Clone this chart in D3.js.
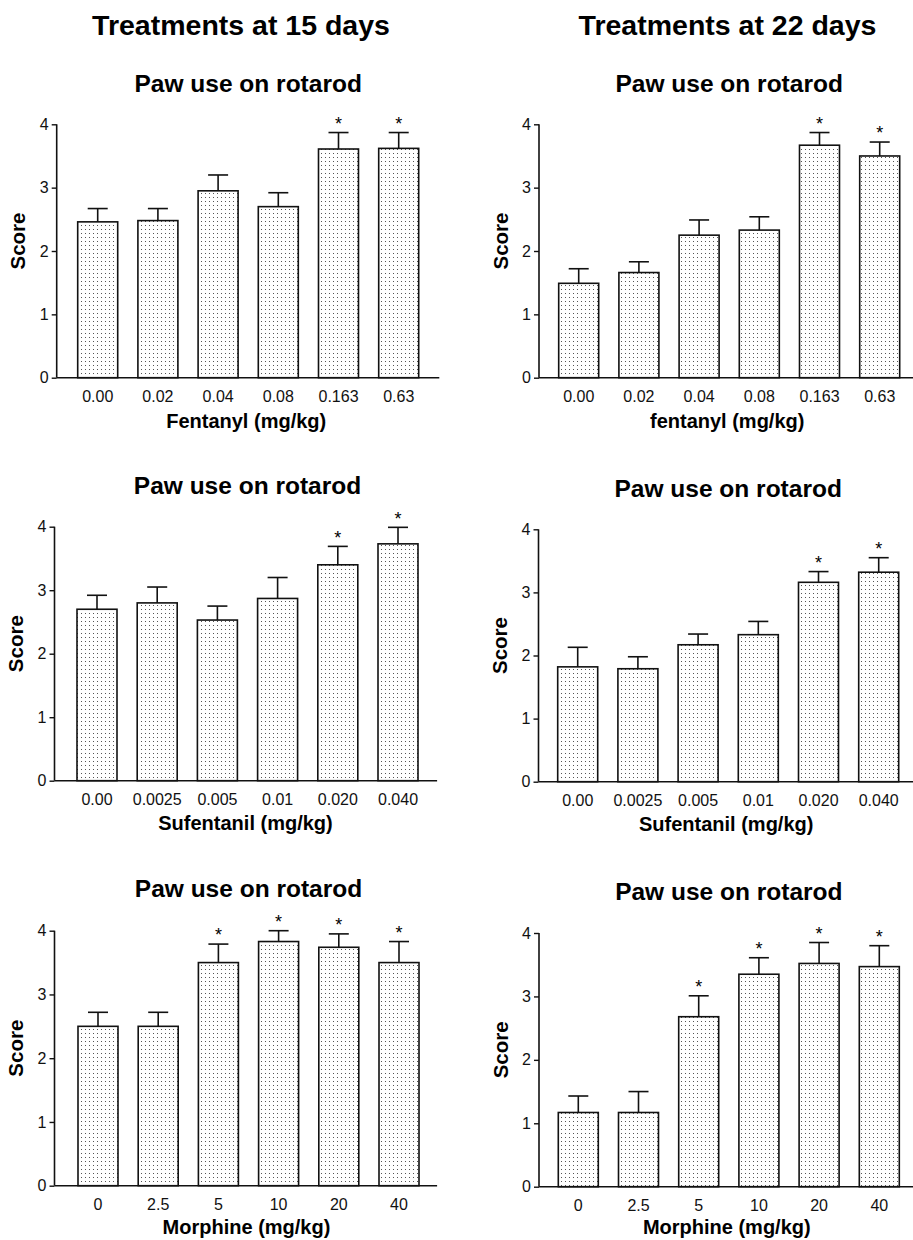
<!DOCTYPE html>
<html>
<head>
<meta charset="utf-8">
<script src="https://cdn.jsdelivr.net/npm/d3@7"></script>
<style>
  html, body { margin: 0; padding: 0; background: #fff; }
  svg { display: block; font-family: "Liberation Sans", Arial, Helvetica, sans-serif; }
</style>
</head>
<body>
<svg id="fig" width="913" height="1240"></svg>
<script>
// ---- data ----
const columnTitles = ["Treatments at 15 days", "Treatments at 22 days"];
const panelTitle = "Paw use on rotarod";
const yAxisLabel = "Score";
const yTicks = [0, 1, 2, 3, 4];

const fentanylDoses = ["0.00", "0.02", "0.04", "0.08", "0.163", "0.63"];
const sufentanilDoses = ["0.00", "0.0025", "0.005", "0.01", "0.020", "0.040"];
const morphineDoses = ["0", "2.5", "5", "10", "20", "40"];

const xTitles = ["Fentanyl (mg/kg)", "fentanyl (mg/kg)", "Sufentanil (mg/kg)",
                 "Sufentanil (mg/kg)", "Morphine (mg/kg)", "Morphine (mg/kg)"];

const fentanyl15Mean = [2.46, 2.48, 2.95, 2.70, 3.61, 3.62];
const fentanyl15Sem  = [0.21, 0.19, 0.25, 0.22, 0.26, 0.25];
const fentanyl15Sig  = [0, 0, 0, 0, 1, 1];

const fentanyl22Mean = [1.49, 1.66, 2.25, 2.33, 3.67, 3.50];
const fentanyl22Sem  = [0.23, 0.17, 0.24, 0.21, 0.20, 0.22];
const fentanyl22Sig  = [0, 0, 0, 0, 1, 1];

const sufentanil15Mean = [2.70, 2.80, 2.53, 2.87, 3.40, 3.73];
const sufentanil15Sem  = [0.22, 0.25, 0.22, 0.33, 0.29, 0.26];
const sufentanil15Sig  = [0, 0, 0, 0, 1, 1];

const sufentanil22Mean = [1.82, 1.79, 2.17, 2.33, 3.16, 3.32];
const sufentanil22Sem  = [0.31, 0.19, 0.17, 0.21, 0.17, 0.23];
const sufentanil22Sig  = [0, 0, 0, 0, 1, 1];

const morphine15Mean = [2.50, 2.50, 3.50, 3.83, 3.74, 3.50];
const morphine15Sem  = [0.22, 0.22, 0.29, 0.17, 0.21, 0.33];
const morphine15Sig  = [0, 0, 1, 1, 1, 1];

const morphine22Mean = [1.17, 1.17, 2.68, 3.35, 3.52, 3.47];
const morphine22Sem  = [0.26, 0.33, 0.33, 0.26, 0.33, 0.33];
const morphine22Sig  = [0, 0, 1, 1, 1, 1];

// ---- panel assembly ----
const panels = [
  { doses: fentanylDoses,   mean: fentanyl15Mean,   sem: fentanyl15Sem,   sig: fentanyl15Sig,   xTitle: xTitles[0] },
  { doses: fentanylDoses,   mean: fentanyl22Mean,   sem: fentanyl22Sem,   sig: fentanyl22Sig,   xTitle: xTitles[1] },
  { doses: sufentanilDoses, mean: sufentanil15Mean, sem: sufentanil15Sem, sig: sufentanil15Sig, xTitle: xTitles[2] },
  { doses: sufentanilDoses, mean: sufentanil22Mean, sem: sufentanil22Sem, sig: sufentanil22Sig, xTitle: xTitles[3] },
  { doses: morphineDoses,   mean: morphine15Mean,   sem: morphine15Sem,   sig: morphine15Sig,   xTitle: xTitles[4] },
  { doses: morphineDoses,   mean: morphine22Mean,   sem: morphine22Sem,   sig: morphine22Sig,   xTitle: xTitles[5] }
];

// frame geometry for each panel: y-axis position, plot top/bottom, first bar edge
const frames = [
  { axisX: 56.7,  top: 124.3, bottom: 377.7,  barStart: 77.7,  sub: 91.7,  xTitleOff: 50 },
  { axisX: 539.0, top: 124.3, bottom: 377.7,  barStart: 558.7, sub: 91.7,  xTitleOff: 50 },
  { axisX: 54.5,  top: 526.7, bottom: 780.7,  barStart: 77.0,  sub: 494.3, xTitleOff: 49.5 },
  { axisX: 538.5, top: 529.3, bottom: 781.7,  barStart: 557.7, sub: 497.3, xTitleOff: 49.5 },
  { axisX: 54.5,  top: 930.7, bottom: 1185.7, barStart: 78.0,  sub: 897.3, xTitleOff: 48.5 },
  { axisX: 539.0, top: 933.0, bottom: 1186.7, barStart: 558.3, sub: 900.0, xTitleOff: 47.5 }
];

const svg = d3.select("#fig");

// dotted bar fill
const defs = svg.append("defs");
const pat = defs.append("pattern")
  .attr("id", "dots")
  .attr("patternUnits", "userSpaceOnUse")
  .attr("width", 4).attr("height", 4);
pat.append("rect").attr("width", 4).attr("height", 4).attr("fill", "#fff");
pat.append("rect").attr("x", 1).attr("y", 1).attr("width", 1).attr("height", 1).attr("fill", "#555");

// column headings
const headingX = [241, 727.5];
columnTitles.forEach((t, i) => {
  svg.append("text")
    .attr("x", headingX[i]).attr("y", 35)
    .attr("text-anchor", "middle")
    .attr("font-size", 28.5).attr("font-weight", "bold")
    .text(t);
});

const step = 60.2, barW = 40, gap = step - barW;
const axisLen = 382.6;

panels.forEach((p, i) => {
  const f = frames[i];
  const g = svg.append("g");

  const x = d3.scaleBand()
    .domain(p.doses)
    .range([f.barStart - gap / 2, f.barStart - gap / 2 + step * p.doses.length])
    .paddingInner(gap / step)
    .paddingOuter(gap / step / 2);

  const y = d3.scaleLinear().domain([0, 4]).range([f.bottom, f.top]);

  const rows = p.doses.map((d, k) => ({ dose: d, mean: p.mean[k], sem: p.sem[k], sig: p.sig[k] }));

  // bars
  g.selectAll("rect.bar").data(rows).enter().append("rect")
    .attr("class", "bar")
    .attr("x", d => x(d.dose))
    .attr("y", d => y(d.mean))
    .attr("width", x.bandwidth())
    .attr("height", d => y(0) - y(d.mean))
    .attr("fill", "url(#dots)")
    .attr("stroke", "#111")
    .attr("stroke-width", 1.6);

  // upper error bars
  const cx = d => x(d.dose) + x.bandwidth() / 2;
  g.selectAll("line.err").data(rows).enter().append("line")
    .attr("x1", cx).attr("x2", cx)
    .attr("y1", d => y(d.mean)).attr("y2", d => y(d.mean + d.sem))
    .attr("stroke", "#111").attr("stroke-width", 1.6);
  g.selectAll("line.cap").data(rows).enter().append("line")
    .attr("x1", d => cx(d) - x.bandwidth() / 4).attr("x2", d => cx(d) + x.bandwidth() / 4)
    .attr("y1", d => y(d.mean + d.sem)).attr("y2", d => y(d.mean + d.sem))
    .attr("stroke", "#111").attr("stroke-width", 1.6);

  // significance stars
  g.selectAll("text.star").data(rows.filter(d => d.sig)).enter().append("text")
    .attr("x", cx)
    .attr("y", d => y(d.mean + d.sem) - 2.7)
    .attr("text-anchor", "middle")
    .attr("font-size", 18)
    .text("*");

  // y axis
  const yAxis = d3.axisLeft(y).tickValues(yTicks).tickFormat(d3.format("d")).tickSize(5).tickPadding(3);
  const ya = g.append("g").attr("transform", `translate(${f.axisX},0)`).call(yAxis);
  ya.select(".domain").attr("stroke", "#111").attr("stroke-width", 1.6).attr("d", `M0,${f.top}V${f.bottom}`);
  ya.selectAll(".tick line").attr("stroke", "#111").attr("stroke-width", 1.4);
  ya.selectAll(".tick text").attr("font-size", 16).attr("fill", "#111")
    .attr("font-family", "\"Liberation Sans\", Arial, sans-serif");

  // x axis baseline and dose labels
  const xAxis = d3.axisBottom(x).tickSize(0).tickPadding(12);
  const xa = g.append("g").attr("transform", `translate(0,${f.bottom})`).call(xAxis);
  xa.select(".domain").attr("stroke", "#111").attr("stroke-width", 1.6)
    .attr("d", `M${f.axisX},0H${f.axisX + axisLen}`);
  xa.selectAll(".tick text").attr("font-size", 16).attr("fill", "#111")
    .attr("font-family", "\"Liberation Sans\", Arial, sans-serif")
    .attr("dy", null).attr("y", 24);

  const mid = (x.range()[0] + x.range()[1]) / 2;

  // panel title
  g.append("text")
    .attr("x", mid).attr("y", f.sub)
    .attr("text-anchor", "middle")
    .attr("font-size", 24.5).attr("font-weight", "bold")
    .text(panelTitle);

  // x axis title
  g.append("text")
    .attr("x", mid - 2).attr("y", f.bottom + f.xTitleOff)
    .attr("text-anchor", "middle")
    .attr("font-size", 20).attr("font-weight", "bold")
    .text(p.xTitle);

  // y axis title
  const sx = f.axisX - 31.5;
  g.append("text")
    .attr("transform", `translate(${sx},${(f.top + f.bottom) / 2 - 10}) rotate(-90)`)
    .attr("text-anchor", "middle")
    .attr("font-size", 20.5).attr("font-weight", "bold")
    .text(yAxisLabel);
});
</script>
</body>
</html>
